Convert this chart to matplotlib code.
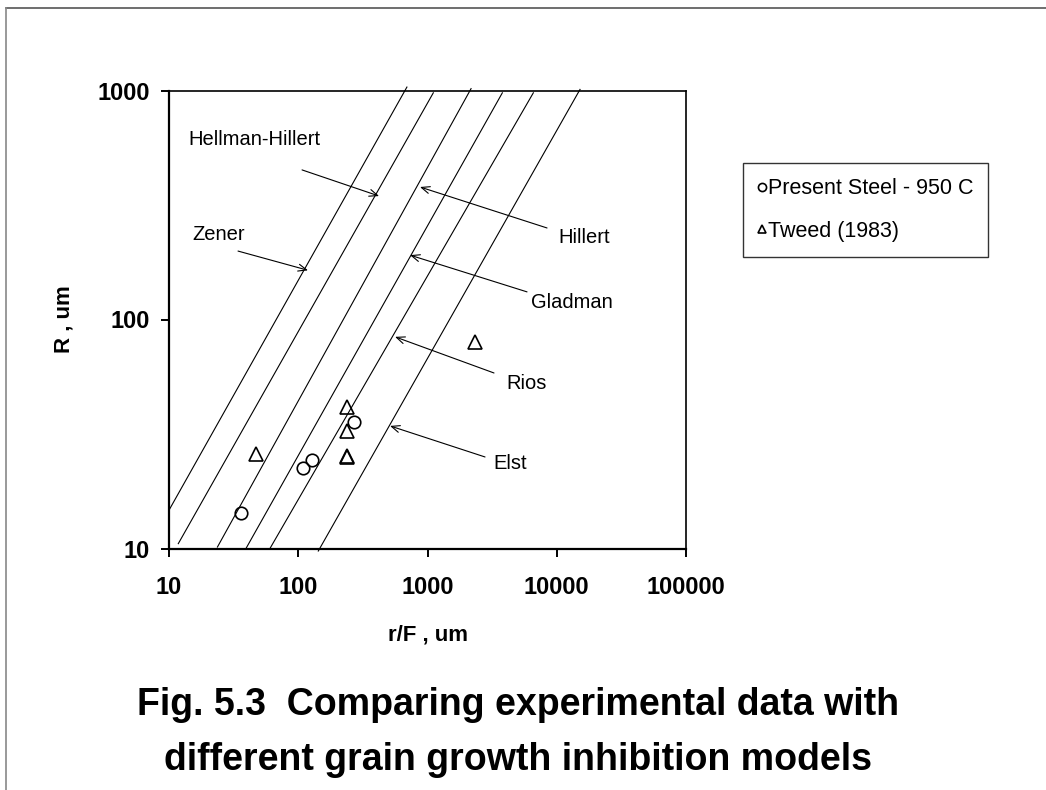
import matplotlib
matplotlib.use("Agg")
import matplotlib.pyplot as plt
from matplotlib.lines import Line2D

plt.rcParams['font.family'] = ['Liberation Sans', 'DejaVu Sans']

# model lines (start and end points)
model_names = ['Zener', 'Hellman-Hillert', 'Hillert', 'Gladman', 'Rios', 'Elst']
line_x0 = [10, 11.8, 23.7, 39.4, 60.4, 142.9]
line_R0 = [14.7, 10.5, 10.15, 10.0, 10.0, 9.75]
line_x1 = [693, 1109, 2173, 3794, 6590, 15140]
line_R1 = [1035, 977, 1019, 977, 977, 1011]

# experimental data
steel_x = [36.1, 109.4, 127, 271.6]
steel_R = [14.3, 22.4, 24.3, 35.6]
tweed_x = [47.1, 237, 237, 237, 237, 2333]
tweed_R = [25.9, 41.6, 32.7, 25.4, 25.0, 79.4]

x_ticks = [10, 100, 1000, 10000, 100000]
y_ticks = [10, 100, 1000]

# label text position, arrow tail, arrow tip (data coords)
label_pos = {
    'Zener': ((15.3, 236), (34.2, 199), (119, 164)),
    'Hellman-Hillert': ((14.0, 608), (107, 450), (422, 346)),
    'Hillert': ((10240, 227), (8410, 251), (875, 379)),
    'Gladman': ((6320, 119), (5890, 132), (733, 191)),
    'Rios': ((4050, 52.8), (3270, 58.4), (561, 84)),
    'Elst': ((3214, 23.4), (2787, 25.1), (513, 34.3)),
}

fig = plt.figure(figsize=(10.46, 7.90), dpi=100)
ax = fig.add_axes([169/1046, 1-548.5/790, 517/1046, 458/790])
ax.set_xscale('log')
ax.set_yscale('log')
ax.set_xlim(10, 100000)
ax.set_ylim(10, 1000)

for i in range(len(model_names)):
    ax.plot([line_x0[i], line_x1[i]], [line_R0[i], line_R1[i]],
            color='black', lw=0.8, clip_on=False)

ax.plot(steel_x, steel_R, 'o', ms=9, mfc='none', mec='black', mew=1.2,
        label='Present Steel - 950 C', clip_on=False)
ax.plot(tweed_x, tweed_R, '^', ms=9.5, mfc='none', mec='black', mew=1.2,
        label='Tweed (1983)', clip_on=False)

for name in model_names:
    txt, tail, tip = label_pos[name]
    ax.text(txt[0], txt[1], name, fontsize=14.5, ha='left', va='center')
    ax.annotate('', xy=tip, xytext=tail,
                arrowprops=dict(arrowstyle='->,head_length=0.6,head_width=0.25',
                                color='black', lw=0.8, shrinkA=0, shrinkB=0))

ax.set_xticks(x_ticks)
ax.set_xticklabels([str(v) for v in x_ticks])
ax.set_yticks(y_ticks)
ax.set_yticklabels([str(v) for v in y_ticks])
ax.minorticks_off()
ax.tick_params(direction='out', length=6, width=1.4, labelsize=17, pad=4)
ax.tick_params(axis='x', pad=14)
ax.tick_params(axis='y', pad=8)
for lab in ax.get_xticklabels() + ax.get_yticklabels():
    lab.set_fontweight('bold')
for side in ['left', 'bottom']:
    ax.spines[side].set_linewidth(1.6)
for side in ['top', 'right']:
    ax.spines[side].set_linewidth(1.2)

ax.set_xlabel('r/F , um', fontsize=16, fontweight='bold', labelpad=18)
ax.set_ylabel('R , um', fontsize=16, fontweight='bold', labelpad=16)

leg = fig.legend(loc='upper left', bbox_to_anchor=(743/1046, 1-163/790),
                 fontsize=15.5, markerscale=0.65, handlelength=0.35,
                 handletextpad=0.1, labelspacing=1.0, borderpad=0.7,
                 borderaxespad=0, fancybox=False, frameon=True,
                 edgecolor='black')
leg.get_frame().set_linewidth(1.0)

fig.text(518/1046, 1-705/790, 'Fig. 5.3  Comparing experimental data with',
         fontsize=27, fontweight='bold', ha='center', va='center')
fig.text(518/1046, 1-760/790, 'different grain growth inhibition models',
         fontsize=27, fontweight='bold', ha='center', va='center')

# page border
fig.add_artist(Line2D([6/1046, 1], [1-8/790, 1-8/790], color='#555555', lw=1.2))
fig.add_artist(Line2D([6/1046, 6/1046], [0, 1-8/790], color='#888888', lw=1.2))

fig.savefig('out.png', dpi=100)
